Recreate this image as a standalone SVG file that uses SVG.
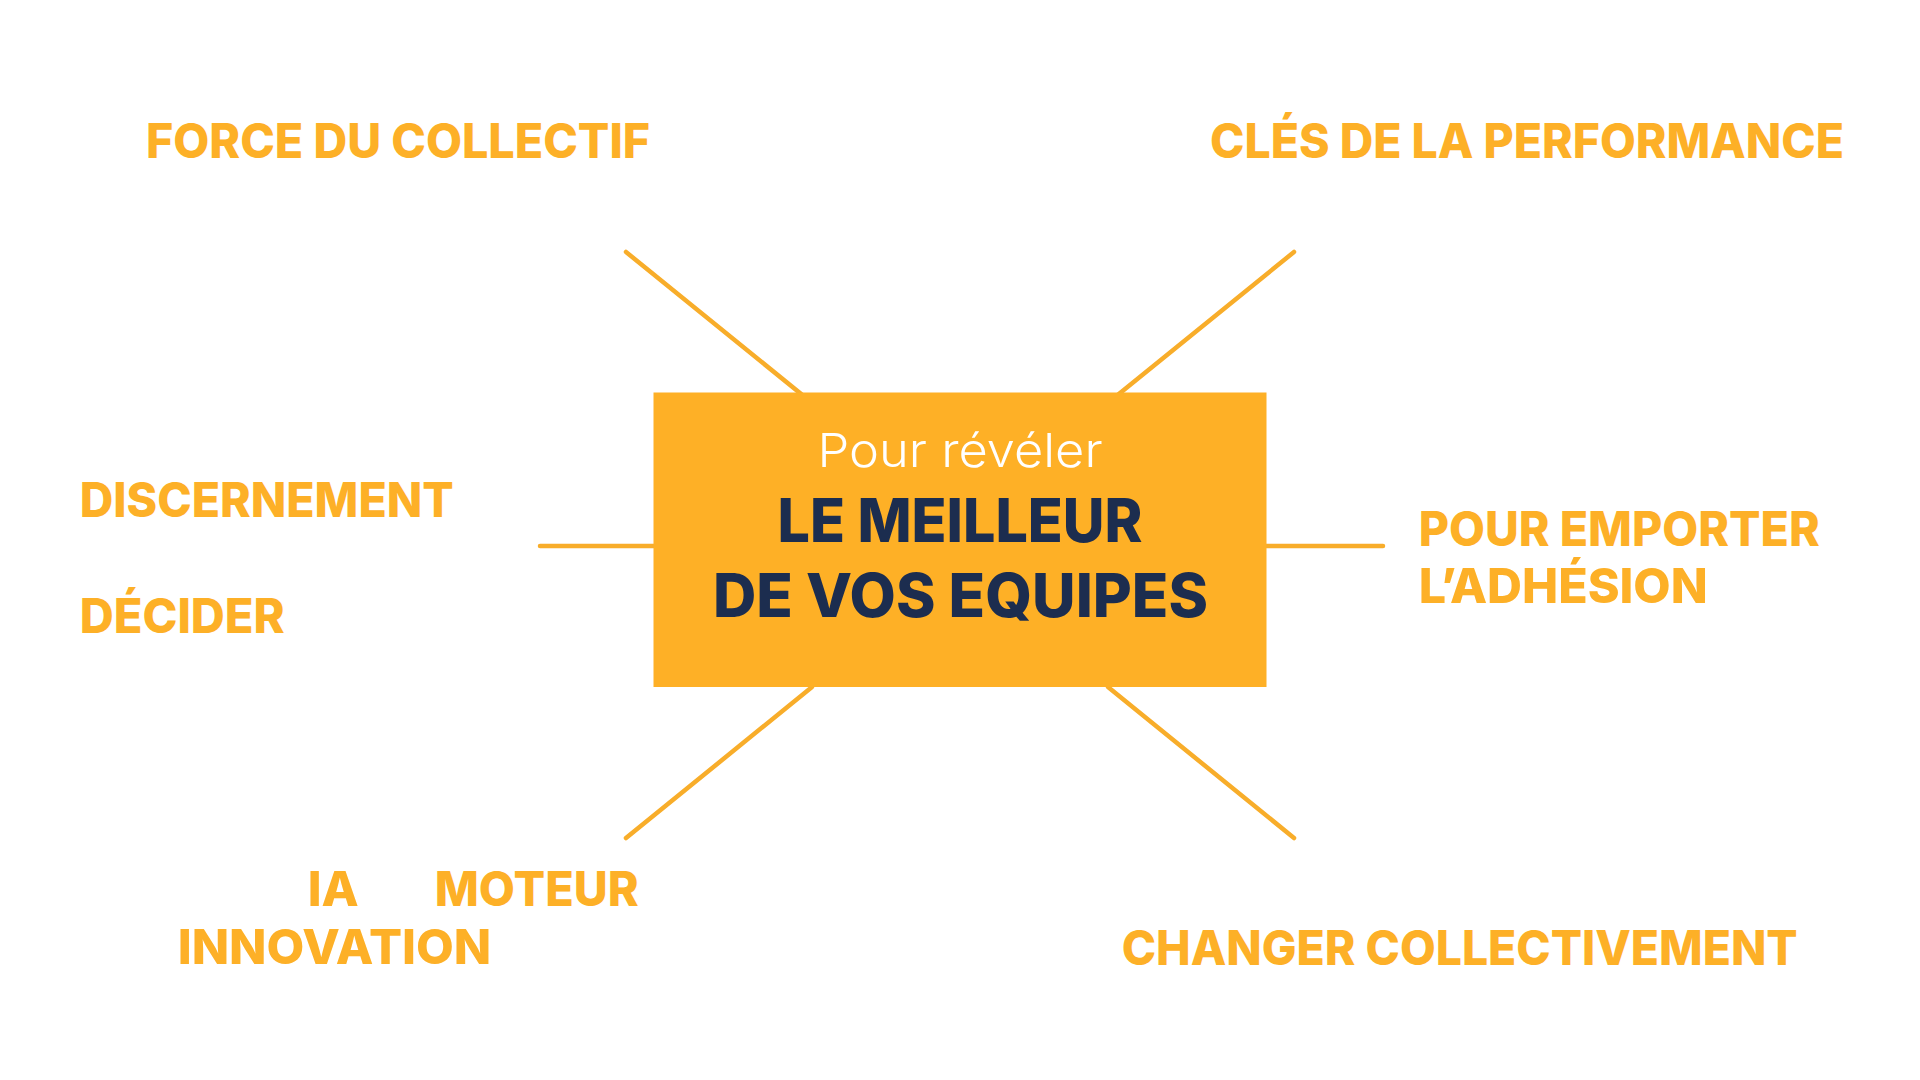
<svg xmlns="http://www.w3.org/2000/svg" width="1920" height="1080" viewBox="0 0 1920 1080">
  <style>
    .lbl { font-family: Inter, "Liberation Sans", sans-serif; font-weight: 800; font-size: 48px; fill: #FDB027; }
    .sub { font-family: Inter, "Liberation Sans", sans-serif; font-weight: 350; font-size: 47px; fill: #FFFFFF; }
    .big { font-family: Inter, "Liberation Sans", sans-serif; font-weight: 800; font-size: 60px; fill: #1C2D4F; }
    .con { stroke: #F8AD2A; stroke-width: 4.5; stroke-linecap: round; fill: none; }
  </style>
  <rect x="0" y="0" width="1920" height="1080" fill="#FFFFFF"/>
  <g id="connectors">
    <line class="con" x1="626" y1="252" x2="811" y2="402"/>
    <line class="con" x1="1294" y1="252" x2="1109" y2="402"/>
    <line class="con" x1="540" y1="546" x2="663" y2="546"/>
    <line class="con" x1="1383" y1="546" x2="1259" y2="546"/>
    <line class="con" x1="626" y1="838" x2="812" y2="687"/>
    <line class="con" x1="1294" y1="838" x2="1108" y2="687"/>
  </g>
  <g id="center">
    <rect x="653.5" y="392.5" width="613" height="294.5" fill="#FEB026"/>
    <text class="sub" x="817.6" y="467" textLength="285" lengthAdjust="spacingAndGlyphs">Pour révéler</text>
    <text class="big" x="777.5" y="542" textLength="365" lengthAdjust="spacingAndGlyphs">LE MEILLEUR</text>
    <text class="big" x="713" y="617" textLength="495" lengthAdjust="spacingAndGlyphs">DE VOS EQUIPES</text>
  </g>
  <g id="force-collectif">
    <text class="lbl" x="146" y="158" textLength="504" lengthAdjust="spacingAndGlyphs">FORCE DU COLLECTIF</text>
  </g>
  <g id="cles-performance">
    <text class="lbl" x="1210" y="158" textLength="634" lengthAdjust="spacingAndGlyphs">CLÉS DE LA PERFORMANCE</text>
  </g>
  <g id="discernement">
    <text class="lbl" x="79.7" y="517" textLength="374" lengthAdjust="spacingAndGlyphs">DISCERNEMENT</text>
    <text class="lbl" x="79.7" y="633" textLength="205" lengthAdjust="spacingAndGlyphs">DÉCIDER</text>
  </g>
  <g id="adhesion">
    <text class="lbl" x="1418.7" y="546" textLength="401" lengthAdjust="spacingAndGlyphs">POUR EMPORTER</text>
    <text class="lbl" x="1418.7" y="603" textLength="289" lengthAdjust="spacingAndGlyphs">L’ADHÉSION</text>
  </g>
  <g id="ia-innovation">
    <text class="lbl" x="307.7" y="906" textLength="51" lengthAdjust="spacingAndGlyphs">IA</text>
    <text class="lbl" x="434.7" y="906" textLength="204" lengthAdjust="spacingAndGlyphs">MOTEUR</text>
    <text class="lbl" x="177.7" y="964" textLength="313.6" lengthAdjust="spacingAndGlyphs">INNOVATION</text>
  </g>
  <g id="changer-collectivement">
    <text class="lbl" x="1121.7" y="965" textLength="676" lengthAdjust="spacingAndGlyphs">CHANGER COLLECTIVEMENT</text>
  </g>
</svg>
